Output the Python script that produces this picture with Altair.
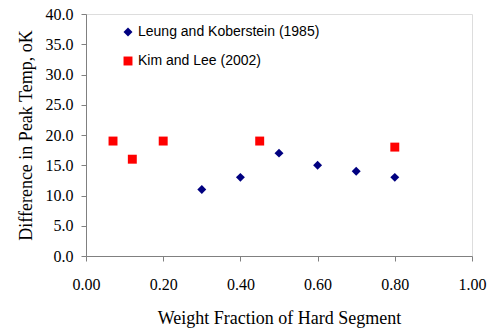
import altair as alt
import pandas as pd

leung_x = [0.30, 0.40, 0.50, 0.60, 0.70, 0.80]
leung_y = [11.0, 13.0, 17.0, 15.0, 14.0, 13.0]
kim_x = [0.07, 0.12, 0.20, 0.45, 0.80]
kim_y = [19.0, 16.0, 19.0, 19.0, 18.0]
series = ["Leung and Koberstein (1985)", "Kim and Lee (2002)"]

df = pd.concat([
    pd.DataFrame({"x": leung_x, "y": leung_y, "s": series[0]}),
    pd.DataFrame({"x": kim_x, "y": kim_y, "s": series[1]}),
])

serif = "Liberation Serif"

chart = alt.Chart(df).mark_point(filled=True, size=80, opacity=1).encode(
    x=alt.X("x:Q", scale=alt.Scale(domain=[0, 1], nice=False),
            axis=alt.Axis(title="Weight Fraction of Hard Segment", values=[0, 0.2, 0.4, 0.6, 0.8, 1.0],
                          format=".2f", tickSize=5, labelPadding=15, titlePadding=17)),
    y=alt.Y("y:Q", scale=alt.Scale(domain=[0, 40], nice=False),
            axis=alt.Axis(title="Difference in Peak Temp, oK", values=[0, 5, 10, 15, 20, 25, 30, 35, 40],
                          format=".1f", tickSize=5, labelPadding=8, titlePadding=10)),
    color=alt.Color("s:N", scale=alt.Scale(domain=series, range=["#000080", "#ff0000"]),
                    legend=alt.Legend(title=None, orient="none", legendX=35, legendY=11,
                                      labelFont="Liberation Sans", labelFontSize=14,
                                      labelColor="#000", rowPadding=15, symbolSize=80,
                                      labelOffset=3, labelLimit=400)),
    shape=alt.Shape("s:N", scale=alt.Scale(domain=series, range=["diamond", "square"]), legend=None),
).properties(
    width=386, height=242,
    autosize=alt.AutoSizeParams(type="none"),
    padding={"left": 86, "top": 14, "right": 19, "bottom": 73},
).configure_view(stroke=None).configure(background="white").configure_axis(
    grid=False, labelFont=serif, titleFont=serif, labelFontSize=16, titleFontSize=18,
    titleFontWeight="normal", labelColor="#000", titleColor="#000",
    domainColor="#808080", tickColor="#808080", labelFlush=False,
)

chart.save("out.html", embed_options={"renderer": "svg", "actions": False})
